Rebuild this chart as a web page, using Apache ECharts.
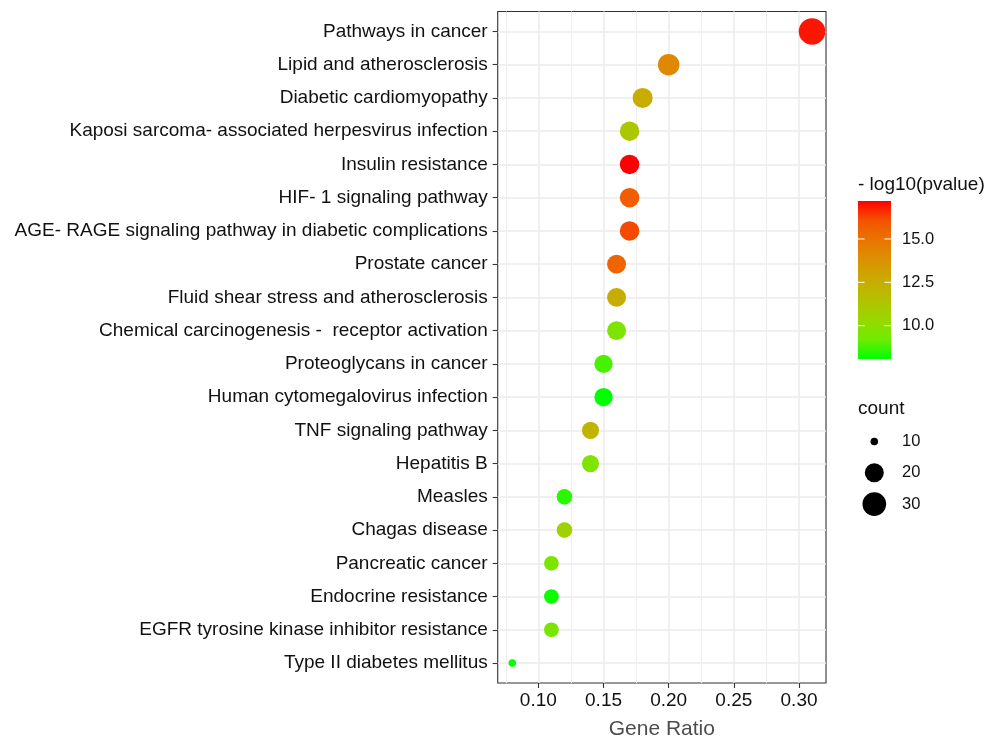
<!DOCTYPE html>
<html>
<head>
<meta charset="utf-8">
<script src="https://cdn.jsdelivr.net/npm/echarts@6/dist/echarts.min.js"></script>
<style>
html,body{margin:0;padding:0;background:#fff;}
#chart{width:985px;height:740px;}
</style>
</head>
<body>
<div id="chart"></div>
<script>
const categories = [
  "Pathways in cancer",
  "Lipid and atherosclerosis",
  "Diabetic cardiomyopathy",
  "Kaposi sarcoma- associated herpesvirus infection",
  "Insulin resistance",
  "HIF- 1 signaling pathway",
  "AGE- RAGE signaling pathway in diabetic complications",
  "Prostate cancer",
  "Fluid shear stress and atherosclerosis",
  "Chemical carcinogenesis -  receptor activation",
  "Proteoglycans in cancer",
  "Human cytomegalovirus infection",
  "TNF signaling pathway",
  "Hepatitis B",
  "Measles",
  "Chagas disease",
  "Pancreatic cancer",
  "Endocrine resistance",
  "EGFR tyrosine kinase inhibitor resistance",
  "Type II diabetes mellitus"
];
const geneRatio = [0.31,0.20,0.18,0.17,0.17,0.17,0.17,0.16,0.16,0.16,0.15,0.15,0.14,0.14,0.12,0.12,0.11,0.11,0.11,0.08];
const counts    = [38,25,22,21,21,21,21,20,20,20,19,19,17,17,15,15,14,14,14,10];
const negLog10P = [16.9,14.2,12.6,11.2,17.19,15.7,16.2,15.5,12.6,9.6,8.8,8.08,12.2,9.7,8.5,10.6,9.5,8.2,9.5,8.15];

const xTicks = [0.10,0.15,0.20,0.25,0.30];
const xMinorTicks = [0.075,0.125,0.175,0.225,0.275];
const colorTicks = [10.0,12.5,15.0];
const sizeTicks = [10,20,30];
const colorStops = ['#00FF00','#70EB00','#98D700','#B3C100','#C9AB00','#DA9200','#E87600','#F45300','#FF0000'];

const FONT = '"Liberation Sans", Arial, sans-serif';
const pMin = Math.min(...negLog10P), pMax = Math.max(...negLog10P);
const cMin = Math.min(...counts), cMax = Math.max(...counts);
function sizeOf(c){
  const s = 1 + 5*Math.sqrt(Math.max(0,(c - cMin))/(cMax - cMin));
  return 3.8*s + 3.8;
}

const chart = echarts.init(document.getElementById('chart'), null, {renderer:'canvas'});
const idx = categories.map((_, i) => i);
const data = categories.map((c, i) => [geneRatio[i], i, negLog10P[i], counts[i]]);

const gridL = 497.7, gridR = 985-826, gridT = 11.5, gridB = 740-683;

const option = {
  backgroundColor: '#fff',
  animation: false,
  grid: {left: gridL, right: gridR, top: gridT, bottom: gridB, show: true,
         borderColor: '#333333', borderWidth: 1.1, backgroundColor: 'transparent',
         outerBoundsMode: 'none'},
  xAxis: [{
    type: 'value', min: 0.0688, max: 0.3207, position: 'bottom',
    name: 'Gene Ratio', nameLocation: 'middle', nameGap: 36,
    nameTextStyle: {fontFamily: FONT, fontSize: 21, color: '#4D4D4D'},
    axisLine: {show: false, onZero: false},
    axisTick: {show: true, length: 5, lineStyle: {color: '#333', width: 1.1}, customValues: xTicks},
    axisLabel: {customValues: xTicks, margin: 8, fontFamily: FONT, fontSize: 19, color: '#111',
                formatter: v => v.toFixed(2)},
    splitLine: {show: true, lineStyle: {color: '#EBEBEB', width: 1.5}}
  },{
    type: 'value', min: 0.0688, max: 0.3207, position: 'bottom',
    axisLine: {show: false, onZero: false},
    axisTick: {show: false, customValues: xMinorTicks},
    axisLabel: {show: false, customValues: xMinorTicks},
    splitLine: {show: true, lineStyle: {color: '#EEEEEE', width: 1}}
  }],
  yAxis: {
    type: 'value', inverse: true, min: -0.6, max: 19.6, position: 'left',
    axisLine: {show: false, onZero: false},
    axisTick: {show: true, length: 5, lineStyle: {color: '#333', width: 1.1}, customValues: idx},
    axisLabel: {customValues: idx, margin: 10, fontFamily: FONT, fontSize: 19, color: '#111',
                formatter: v => categories[Math.round(v)]},
    splitLine: {show: true, lineStyle: {color: '#EBEBEB', width: 1.5}}
  },
  visualMap: {
    show: false, type: 'continuous', dimension: 2, seriesIndex: 0,
    min: pMin, max: pMax, inRange: {color: colorStops}
  },
  series: [{
    type: 'scatter', xAxisIndex: 0, yAxisIndex: 0,
    data: data,
    symbol: 'circle',
    symbolSize: v => sizeOf(v[3]),
    itemStyle: {opacity: 1},
    z: 5
  }]
};
chart.setOption(option);

// legends
const barX = 858, barY = 201, barW = 33, barH = 158;
const els = [];
els.push({type:'text', left: barX, top: 175, style:{text:'- log10(pvalue)', font:'19px ' + FONT, fill:'#111'}});
els.push({type:'rect', shape:{x:barX, y:barY, width:barW, height:barH},
  style:{fill: new echarts.graphic.LinearGradient(0,1,0,0, colorStops.map((c,i)=>({offset:i/(colorStops.length-1), color:c})))}});
colorTicks.forEach(v => {
  const y = barY + barH - (v - pMin)/(pMax - pMin)*barH;
  els.push({type:'line', shape:{x1:barX, y1:y, x2:barX+6.6, y2:y}, style:{stroke:'#fff', lineWidth:1}});
  els.push({type:'line', shape:{x1:barX+barW-6.6, y1:y, x2:barX+barW, y2:y}, style:{stroke:'#fff', lineWidth:1}});
  els.push({type:'text', x: 902, y: y, style:{text: v.toFixed(1), font:'16.5px ' + FONT, fill:'#111', textVerticalAlign:'middle'}});
});
els.push({type:'text', left: barX, top: 399, style:{text:'count', font:'19px ' + FONT, fill:'#111'}});
sizeTicks.forEach((c, i) => {
  const y = 441.5 + i*31.3;
  els.push({type:'circle', shape:{cx: 874.3, cy: y, r: sizeOf(c)/2}, style:{fill:'#000'}});
  els.push({type:'text', x: 902, y: y, style:{text: String(c), font:'16.5px ' + FONT, fill:'#111', textVerticalAlign:'middle'}});
});
chart.setOption({graphic: {elements: els}});
</script>
</body>
</html>
